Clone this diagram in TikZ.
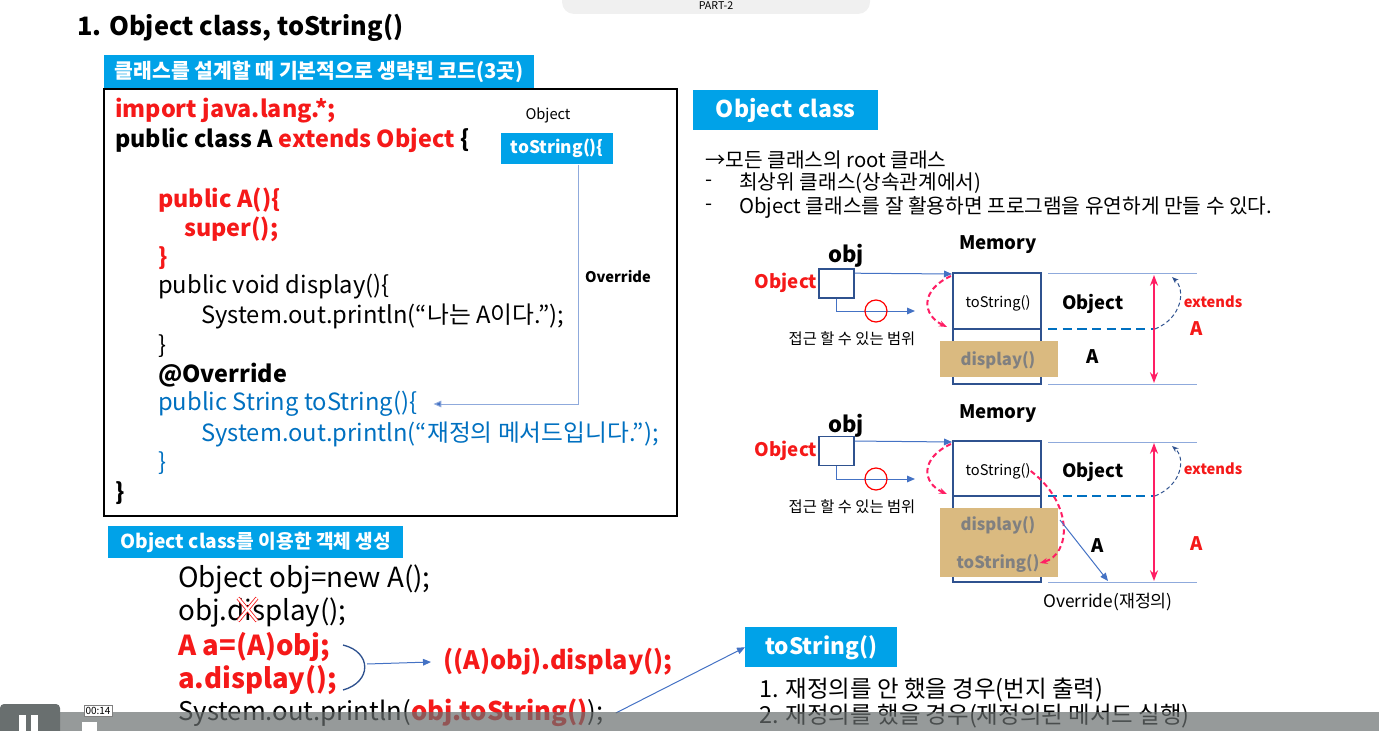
\documentclass[tikz,border=0pt]{standalone}
\usepackage{fontspec}
\setmainfont{Noto Sans CJK KR}
\usepackage{xcolor}
\usetikzlibrary{arrows.meta}

\definecolor{bannerblue}{RGB}{0,162,232}
\definecolor{codered}{RGB}{245,25,25}
\definecolor{codeblue}{RGB}{0,112,192}
\definecolor{linkblue}{RGB}{68,114,196}
\definecolor{paleblue}{RGB}{143,170,220}
\definecolor{memblue}{RGB}{47,82,143}
\definecolor{hotpink}{RGB}{255,30,100}
\definecolor{papyrus}{RGB}{218,186,128}
\definecolor{bargray}{RGB}{105,111,111}

\newcommand{\fsz}[1]{\fontsize{#1}{#1}\selectfont}

\begin{document}
\begin{tikzpicture}[x=0.75pt,y=0.75pt,yscale=-1,xscale=1,
  txt/.style={anchor=west,inner sep=0pt},
  lbl/.style={inner sep=0pt},
  code/.style={txt,font=\fsz{17.8}},
  codeb/.style={txt,font=\fsz{17.5}\bfseries},
  banner/.style={fill=bannerblue,text=white,inner sep=0pt,anchor=north west},
  lnk/.style={linkblue,line width=0.75,-{Triangle[length=6pt,width=5pt]}},
  pale/.style={paleblue,line width=0.75},
  membox/.style={memblue,line width=1.5},
  objbox/.style={draw=memblue,line width=1.2,minimum width=26.25pt,minimum height=21.75pt,inner sep=0pt},
  reach/.style={draw=red,circle,line width=0.9,minimum size=16.5pt,inner sep=0pt},
  pinkdash/.style={hotpink,line width=1.5,dash pattern=on 4pt off 2.5pt,-{Stealth[length=6pt]}},
  extarrow/.style={memblue,line width=0.75,dash pattern=on 3pt off 2pt,-{Stealth[length=5pt]}},
  span/.style={hotpink,line width=1.5,{Stealth[length=8pt]}-{Stealth[length=8pt]}},
  midline/.style={codeblue,line width=1.5,dash pattern=on 7pt off 4pt}
]
\useasboundingbox (0,0) rectangle (1379,731);

%Shape: Rounded Rectangle
\fill[gray!12,rounded corners=9pt] (562,-12) rectangle (870,14);
% Text Node
\node[lbl,font=\fsz{8}] (part) at (716,6) {PART-2};

% Text Node
\node[txt,font=\fsz{19}\bfseries] (title) at (77,28) {1. Object class, toString()};

% Banner
\node[banner,minimum width=322.5pt,minimum height=25.5pt,font=\fsz{15.3}\bfseries] (ban1) at (104,55) {클래스를 설계할 때 기본적으로 생략된 코드(3곳)};

%Shape: Rectangle
\draw[line width=1.5] (104,89) rectangle (677,516);

% Text Node
\node[codeb,text=codered] (imp) at (115,111) {import java.lang.*;};
\node[codeb] (cls) at (115,140) {public class A \textcolor{codered}{extends Object} \{};
\node[codeb,text=codered] (ctor) at (158,200) {public A()\{};
\node[codeb,text=codered] (sup) at (184,229) {super();};
\node[codeb,text=codered] (ctorend) at (158,258) {\}};
\node[code] (disp) at (158,287) {public void display()\{};
\node[code] (dispbody) at (201,316) {System.out.println(“나는 A이다.”);};
\node[code] (dispend) at (158,346) {\}};
\node[codeb] (anno) at (158,375) {@Override};
\node[code,text=codeblue] (ovts) at (158,404) {public String toString()\{};
\node[code,text=codeblue] (ovbody) at (201,434) {System.out.println(“재정의 메서드입니다.”);};
\node[code,text=codeblue] (ovend) at (158,463) {\}};
\node[codeb] (clsend) at (115,493) {\}};

% Text Node
\node[lbl,font=\fsz{11}] (objlbl) at (548,115) {Object};
\node[banner,minimum width=84pt,minimum height=23.25pt,font=\fsz{13}\bfseries] (objts) at (501,133) {toString()\{};
\node[lbl,font=\fsz{11}\bfseries] (ovlbl) at (618,277) {Override};

%Straight Lines
\draw[paleblue,line width=0.75,-{Triangle[length=6pt,width=5pt,fill=linkblue]}] ([xshift=-26pt]objts.south east) |- ([xshift=12pt]ovts.east);

% Banner
\node[banner,minimum width=138.75pt,minimum height=30pt,font=\fsz{17.3}\bfseries] (objcls) at (693,90) {Object class};

% Text Node
\node[txt,font=\fsz{15.2}] (root) at (705,160) {→모든 클래스의 root 클래스};
\node[txt,font=\fsz{15.2}] (dash1) at (705,183) {-};
\node[txt,font=\fsz{15.2}] (topcls) at (739,183) {최상위 클래스(상속관계에서)};
\node[txt,font=\fsz{15.2}] (dash2) at (705,207) {-};
\node[txt,font=\fsz{15.2}] (flex) at (739,207) {Object 클래스를 잘 활용하면 프로그램을 유연하게 만들 수 있다.};

%%% memory picture 1
\node[lbl,font=\fsz{14}\bfseries] (mem1lbl) at (998,245) {Memory};
\node[lbl,font=\fsz{16.5}\bfseries] (obj1lbl) at (846,256) {obj};
\node[lbl,font=\fsz{14}\bfseries,text=codered] (obj1type) at (786,283) {Object};
\node[objbox] (obj1) at (836.5,283.5) {};
%Shape: Rectangle
\draw[membox] (953,273) rectangle (1041,384);
\draw[membox] (953,329) -- (1041,329);
\fill[papyrus] (940,341) rectangle (1058,377);
% Text Node
\node[lbl,font=\fsz{12.5}\bfseries,text=gray] (disp1) at (998,360) {display()};
\node[lbl,font=\fsz{11}] (ts1) at (998,303) {toString()};
\node[lbl,font=\fsz{13.8}\bfseries] (o1) at (1093,304) {Object};
\node[lbl,font=\fsz{14}\bfseries] (a1) at (1093,357) {A};
\node[lbl,font=\fsz{11}\bfseries,text=codered] (ext1) at (1213,302) {extends};
\node[lbl,font=\fsz{14}\bfseries,text=codered] (a1r) at (1197,329) {A};
%Straight Lines
\draw[pale] (1048,274) -- (1197,274);
\draw[pale] (1048,384) -- (1197,384);
\draw[midline] (1048,329) -- (1155,329);
\draw[span] (1154,275) -- (1154,383);
\draw[extarrow] (1155,329) .. controls (1182,318) and (1186,290) .. (1172,277);
\coordinate (m1tl) at (952,274);
\coordinate (reach1) at (915,311);
\draw[lnk] ([yshift=3.75pt]obj1.north east) -- (m1tl);
\draw[lnk] (obj1.south) |- (reach1);
\node[reach] (circ1) at (876,311) {};
\node[lbl,font=\fsz{11.5}] (range1) at (852,339) {접근 할 수 있는 범위};
\draw[pinkdash] (951,276) .. controls (920,290) and (922,315) .. (947,327);

%%% memory picture 2
\node[lbl,font=\fsz{14}\bfseries] (mem2lbl) at (998,414) {Memory};
\node[lbl,font=\fsz{16.5}\bfseries] (obj2lbl) at (846,426) {obj};
\node[lbl,font=\fsz{14}\bfseries,text=codered] (obj2type) at (786,451) {Object};
\node[objbox] (obj2) at (836.5,451) {};
%Shape: Rectangle
\draw[membox] (953,441) rectangle (1041,582);
\draw[membox] (953,496) -- (1041,496);
\fill[papyrus] (940,508) rectangle (1058,577);
% Text Node
\node[lbl,font=\fsz{12.5}\bfseries,text=gray] (disp2) at (998,525) {display()};
\node[lbl,font=\fsz{12.5}\bfseries,text=gray] (ovts2) at (998,563) {toString()};
\node[lbl,font=\fsz{11}] (ts2) at (998,471) {toString()};
\node[lbl,font=\fsz{13.8}\bfseries] (o2) at (1093,472) {Object};
\node[lbl,font=\fsz{14}\bfseries] (a2) at (1098,546) {A};
\node[lbl,font=\fsz{11}\bfseries,text=codered] (ext2) at (1213,469) {extends};
\node[lbl,font=\fsz{14}\bfseries,text=codered] (a2r) at (1197,544) {A};
\node[lbl,font=\fsz{13}] (ovr2) at (1108,602) {Override(재정의)};
%Straight Lines
\draw[pale] (1048,442) -- (1197,442);
\draw[pale] (1048,582) -- (1197,582);
\draw[midline] (1048,496) -- (1155,496);
\draw[span] (1154,443) -- (1154,581);
\draw[extarrow] (1155,496) .. controls (1182,485) and (1186,458) .. (1172,446);
\coordinate (m2tl) at (952,442);
\coordinate (reach2) at (915,479);
\draw[lnk] ([yshift=4pt]obj2.north east) -- (m2tl);
\draw[lnk] (obj2.south) |- (reach2);
\node[reach] (circ2) at (876,479) {};
\node[lbl,font=\fsz{11.5}] (range2) at (852,507) {접근 할 수 있는 범위};
\draw[pinkdash] (951,444) .. controls (920,458) and (922,483) .. (947,494);
\draw[pinkdash] (ts2.east) .. controls (1075,505) and (1070,555) .. (ovts2.east);
\coordinate (ovfoot) at (1108,581);
\draw[lnk] (1060,520) -- (ovfoot);

%%% object creation
\node[banner,minimum width=221.25pt,minimum height=24pt,font=\fsz{14.4}\bfseries] (ban2) at (108,526) {Object class를 이용한 객체 생성};
% Text Node
\node[txt,font=\fsz{20.8}] (newobj) at (178,580) {Object obj=new A();};
\node[txt,font=\fsz{20.8}] (objdisp) at (178,613) {obj.display();};
\draw[codered,line width=0.6,double=white,double distance=1.6pt] (238,598) -- (257,621) (257,598) -- (238,621);
\node[txt,font=\fsz{20.6}\bfseries,text=codered] (cast) at (178,647) {A a=(A)obj;};
\node[txt,font=\fsz{20.6}\bfseries,text=codered] (adisp) at (178,680) {a.display();};
\draw[memblue,line width=1] (343,645) .. controls (372,652) and (372,682) .. (343,690);
\coordinate (brtip) at (367,664);
\node[txt,font=\fsz{19}\bfseries,text=codered] (castdisp) at (443,662) {((A)obj).display();};
\draw[lnk] (brtip) -- ([xshift=-9pt]castdisp.west);
\node[txt,font=\fsz{19.3}] (println) at (178,713) {System.out.println(\textcolor{codered}{\bfseries obj.toString()});};

\node[banner,minimum width=114pt,minimum height=30pt,font=\fsz{16.9}\bfseries] (tsban) at (745,627) {toString()};
\draw[lnk] ([xshift=9pt]println.east) -- (tsban.west);
\node[txt,font=\fsz{17.6}] (case1) at (759,690) {1. 재정의를 안 했을 경우(번지 출력)};
\node[txt,font=\fsz{17.6}] (case2) at (759,716) {2. 재정의를 했을 경우(재정의된 메서드 실행)};

%%% player bar
\fill[bargray,opacity=0.7] (0,712) rectangle (1379,731);
\fill[bargray,rounded corners=3pt] (0,704) rectangle (60,740);
\fill[white] (19,715) rectangle (26,731);
\fill[white] (31,715) rectangle (38,731);
\fill[white] (82,722) rectangle (97,731);
\node[fill=white,draw=gray,font=\fsz{7.5},inner sep=1.2pt] (clock) at (98,711) {00:14};

\end{tikzpicture}
\end{document}
